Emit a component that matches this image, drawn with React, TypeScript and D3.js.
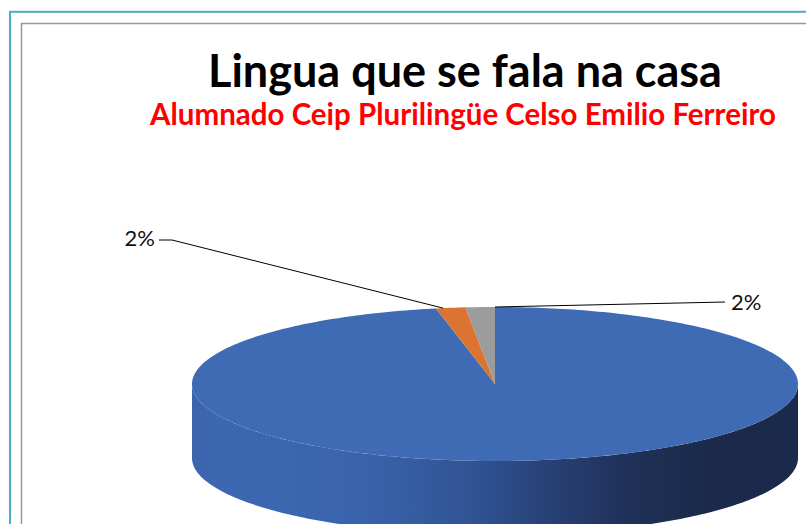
import React from "react";
import * as d3 from "d3";

// ---- data ----
const categories: string[] = ["Castelán", "Galego", "Outras"];
const values: number[] = [62, 1, 1];
const colors: string[] = ["#3F6BB5", "#DB7430", "#9C9C9C"];
const titleText = "Lingua que se fala na casa";
const subtitleText = "Alumnado Ceip Plurilingüe Celso Emilio Ferreiro";

export default function App() {
  const W = 806;
  const H = 524;
  const cx = 495;
  const cy = 384;
  const rx = 303;
  const ry = 77;
  const depth = 74;

  const total = d3.sum(values);
  const fmt = d3.format(".0%");
  const pie = d3
    .pie<number>()
    .sort(null)
    .startAngle(0)
    .endAngle(2 * Math.PI);
  const arcs = pie(values);

  const proj = (a: number, dy = 0): [number, number] => [
    cx + rx * Math.sin(a),
    cy - ry * Math.cos(a) + dy,
  ];
  const ellipseArc = (a0: number, a1: number, dy = 0): [number, number][] => {
    const n = Math.max(4, Math.ceil((Math.abs(a1 - a0) / (2 * Math.PI)) * 360));
    return d3.range(n + 1).map((i) => proj(a0 + ((a1 - a0) * i) / n, dy));
  };
  const line = d3.line<[number, number]>();

  const walls = arcs
    .map((a, i) => {
      const s = Math.max(a.startAngle, Math.PI / 2);
      const e = Math.min(a.endAngle, (3 * Math.PI) / 2);
      if (e <= s) return null;
      const pts = [...ellipseArc(s, e), ...ellipseArc(e, s, depth)];
      return { i, d: line(pts) + "Z" };
    })
    .filter(Boolean) as { i: number; d: string }[];

  const tops = arcs.map((a, i) => {
    const pts: [number, number][] = [[cx, cy], ...ellipseArc(a.startAngle, a.endAngle), [cx, cy]];
    return { i, d: line(pts) + "Z" };
  });

  const orange = arcs[1];
  const gray = arcs[2];
  const oAnchor = proj(orange.startAngle + 0.25 * (orange.endAngle - orange.startAngle));
  const gAnchor = proj(gray.endAngle);
  const leftLabel = { x: 155, y: 246, elbowX: 172, elbowY: 240, text: fmt(orange.data / total) };
  const rightLabel = { x: 731, y: 310, elbowX: 725, elbowY: 302, text: fmt(gray.data / total) };

  return (
    <svg
      width={W}
      height={H}
      style={{ position: "absolute", left: 0, top: 0, background: "#fff" }}
      fontFamily="Lato, 'Open Sans', sans-serif"
    >
      <defs>
        <linearGradient id="sideBlue" gradientUnits="userSpaceOnUse" x1={cx - rx} x2={cx + rx} y1={0} y2={0}>
          <stop offset="0" stopColor="#3A64AC" />
          <stop offset="0.04" stopColor="#3C68B2" />
          <stop offset="0.25" stopColor="#3A64AE" />
          <stop offset="0.35" stopColor="#365EA3" />
          <stop offset="0.48" stopColor="#2F5190" />
          <stop offset="0.6" stopColor="#273F73" />
          <stop offset="0.72" stopColor="#1F3158" />
          <stop offset="0.85" stopColor="#1B2A4A" />
          <stop offset="1" stopColor="#1B2A4A" />
        </linearGradient>
      </defs>

      <rect x={10} y={11.8} width={900} height={700} fill="none" stroke="#4BACC6" strokeWidth={2} />
      <rect x={21.5} y={23.5} width={900} height={700} fill="none" stroke="#999" strokeWidth={1.5} />

      <text x={465} y={87} textAnchor="middle" fontSize={45} fontWeight={700} fill="#000">
        {titleText}
      </text>
      <text x={463} y={125} textAnchor="middle" fontSize={29.5} fontWeight={700} fill="#FF0000">
        {subtitleText}
      </text>

      <g>
        {walls.map((w) => (
          <path key={"w" + w.i} d={w.d} fill={w.i === 0 ? "url(#sideBlue)" : colors[w.i]} />
        ))}
        {tops.map((t) => (
          <path key={"t" + t.i} d={t.d} fill={colors[t.i]}>
            <title>{categories[t.i]}</title>
          </path>
        ))}
      </g>

      <polyline
        points={`${leftLabel.elbowX - 13},${leftLabel.elbowY} ${leftLabel.elbowX},${leftLabel.elbowY} ${oAnchor[0]},${oAnchor[1]}`}
        fill="none"
        stroke="#000"
        strokeWidth={1}
      />
      <polyline
        points={`${gAnchor[0]},${gAnchor[1]} ${rightLabel.elbowX},${rightLabel.elbowY}`}
        fill="none"
        stroke="#000"
        strokeWidth={1}
      />
      <text x={leftLabel.x} y={leftLabel.y} textAnchor="end" fontSize={22} fill="#111">
        {leftLabel.text}
      </text>
      <text x={rightLabel.x} y={rightLabel.y} textAnchor="start" fontSize={22} fill="#111">
        {rightLabel.text}
      </text>
    </svg>
  );
}
